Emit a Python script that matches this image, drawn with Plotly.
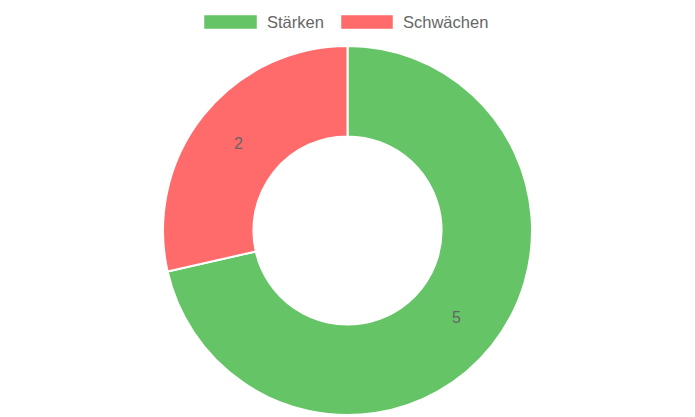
import plotly.graph_objects as go

# Daten
labels = ["Stärken", "Schwächen"]
values = [5, 2]
colors = ["#64c466", "#ff6b6b"]

W, H = 695, 417
# die Seite hat 8px Rand, daher alles um 8px verschoben
OFF = 8

fig = go.Figure()

fig.add_trace(go.Pie(
    labels=labels,
    values=values,
    hole=0.51,
    sort=False,
    direction="clockwise",
    rotation=0,
    domain=dict(x=[0, (W - 2 * OFF) / W], y=[(2 + OFF) / H, 1 - (46 - OFF) / H]),
    marker=dict(colors=colors, line=dict(color="white", width=2)),
    textinfo="value",
    textposition="inside",
    insidetextorientation="horizontal",
    textfont=dict(family="Liberation Sans, Arial, sans-serif", size=16, color="#666666"),
    showlegend=False,
    hoverinfo="label+value",
))

# eigene Legende oben (breite Kästchen wie im Original)
legend_items = [
    (labels[0], colors[0], 204, 257, 267),
    (labels[1], colors[1], 341, 393, 403),
]
for name, col, x0, x1, tx in legend_items:
    fig.add_shape(type="rect", xref="paper", yref="paper",
                  x0=(x0 - OFF) / W, x1=(x1 - OFF) / W,
                  y0=1 - (29 - OFF) / H, y1=1 - (15 - OFF) / H,
                  fillcolor=col, line=dict(color="white", width=0.5))
    fig.add_annotation(xref="paper", yref="paper",
                       x=(tx - OFF) / W, y=1 - (22 - OFF) / H,
                       text=name, showarrow=False,
                       xanchor="left", yanchor="middle",
                       xshift=-2,
                       font=dict(family="Liberation Sans, Arial, sans-serif",
                                 size=16.5, color="#666666"))

fig.update_layout(
    width=W,
    height=H,
    margin=dict(l=0, r=0, t=0, b=0),
    paper_bgcolor="white",
    plot_bgcolor="white",
)

fig.write_html("out.html")
